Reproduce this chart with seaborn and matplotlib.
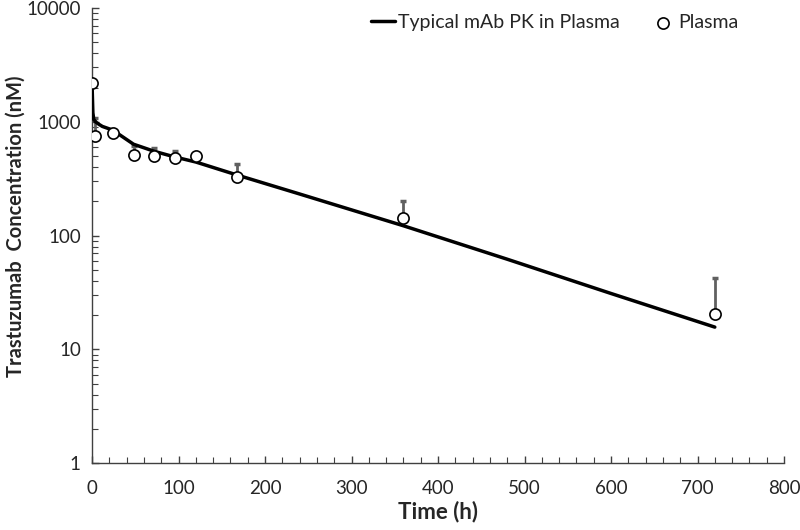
import numpy as np
import pandas as pd
import matplotlib
matplotlib.use("Agg")
import matplotlib.pyplot as plt
import matplotlib.ticker as mticker
import seaborn as sns

sns.set_style("ticks")
plt.rcParams['font.family'] = ['Lato', 'DejaVu Sans']

# typical mAb PK model curve
model_time = [0, 1, 2, 4, 8, 12, 24, 48, 72, 96, 120, 168, 240, 360, 480, 600, 720]
model_conc = [2200, 1200, 1050, 1000, 950, 910, 845, 635, 550, 490, 443, 340, 232, 122, 62, 31, 15.7]

# observed plasma data, mean and upper error
obs_time = [0, 4, 24, 48, 72, 96, 120, 168, 360, 720]
obs_conc = [2200, 750, 795, 510, 500, 480, 500, 327, 142, 20.4]
obs_upper = [2200, 1070, 795, 612, 590, 553, 520, 427, 200, 42]

df_model = pd.DataFrame({"Time": model_time, "Conc": model_conc})
df_obs = pd.DataFrame({"Time": obs_time, "Conc": obs_conc, "Upper": obs_upper})

fig = plt.figure(figsize = (8, 5.3), dpi = 100)
ax = fig.add_axes([0.115, 0.126, 0.865, 0.859])

# error bars (upper side only)
err = np.array(obs_upper) - np.array(obs_conc)
ax.errorbar(df_obs.Time, df_obs.Conc, yerr = [np.zeros(len(err)), err],
            fmt = "none", ecolor = "#606060", elinewidth = 2, capsize = 2.5,
            capthick = 2.5, zorder = 2)

sns.lineplot(data = df_model, x = "Time", y = "Conc", color = "black",
             linewidth = 2.5, ax = ax, label = "Typical mAb PK in Plasma", zorder = 3)
sns.scatterplot(data = df_obs, x = "Time", y = "Conc", marker = "o", s = 65,
                facecolor = "white", edgecolor = "black", linewidth = 1.2,
                ax = ax, label = "Plasma", zorder = 4)

ax.set_yscale("log")
ax.set_ylim(1, 10000)
ax.set_xlim(0, 800)
ax.xaxis.set_major_locator(mticker.MultipleLocator(100))
ax.xaxis.set_minor_locator(mticker.MultipleLocator(20))
ax.yaxis.set_major_locator(mticker.LogLocator(base = 10))
ax.yaxis.set_major_formatter(mticker.FuncFormatter(lambda v, p: "%d" % v))
ax.yaxis.set_minor_locator(mticker.LogLocator(base = 10, subs = np.arange(2, 10)))
ax.yaxis.set_minor_formatter(mticker.NullFormatter())

ax.tick_params(which = "both", direction = "in", color = "#404040", labelsize = 13.5)
ax.tick_params(which = "major", length = 5, width = 1)
ax.tick_params(which = "minor", length = 4, width = 0.8)
ax.tick_params(axis = "x", pad = 12)
ax.tick_params(axis = "y", pad = 8)
sns.despine(ax = ax)
for s in ["left", "bottom"]:
    ax.spines[s].set_color("#404040")
    ax.spines[s].set_linewidth(1)

ax.set_xlabel("Time (h)", fontsize = 16, fontweight = "bold", labelpad = 3)
ax.set_ylabel("Trastuzumab  Concentration (nM)", fontsize = 14.5, fontweight = "bold")
# place y label like the reference (near the left edge)
ax.yaxis.set_label_coords(-0.096, 0.52)

ax.legend(loc = "upper right", bbox_to_anchor = (0.96, 1.025), ncol = 2, frameon = False,
          fontsize = 14, handlelength = 1.2, handletextpad = 0.2, columnspacing = 1.6)

fig.savefig("out.png", dpi = 100)
